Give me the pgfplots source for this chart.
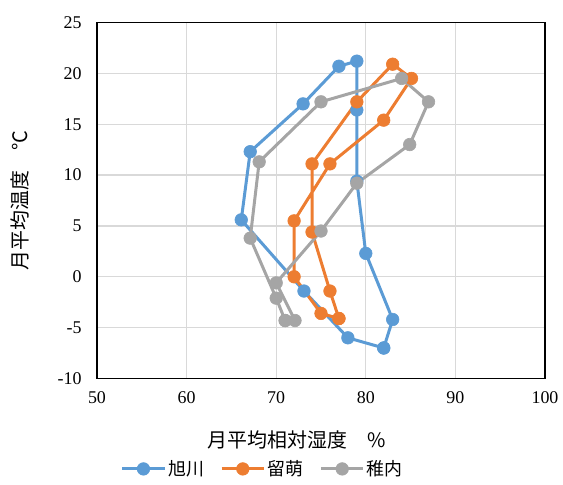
\documentclass[border=0pt]{standalone}
\usepackage{fontspec}
\setmainfont{Liberation Serif}
\newfontfamily\jp{Noto Sans CJK JP}
\usepackage{pgfplots}
\pgfplotsset{compat=1.18}
\definecolor{cblue}{HTML}{5B9BD5}
\definecolor{corange}{HTML}{ED7D31}
\definecolor{cgray}{HTML}{A5A5A5}
\definecolor{cgrid}{HTML}{D9D9D9}
\begin{document}
\begin{tikzpicture}
\begin{axis}[
  scale only axis,
  width=448bp, height=356bp,
  xmin=50, xmax=100, ymin=-10, ymax=25,
  xtick distance=10, ytick distance=5,
  grid=major,
  major grid style={cgrid, line width=1.2bp},
  axis line style={black, line width=1.5bp},
  major tick length=0pt,
  /pgf/number format/assume math mode=true,
  tick label style={font=\rmfamily\fontsize{18}{20}\selectfont},
  xticklabel style={yshift=-10bp},
  yticklabel style={xshift=-12bp},
  xlabel={\jp 月平均相対湿度　\%},
  ylabel={\jp 月平均温度　°C},
  label style={font=\fontsize{20}{22}\selectfont},
  xlabel style={at={(axis description cs:0.446,-0.173)}, anchor=center},
  ylabel style={at={(axis description cs:-0.172,0.5)}, anchor=center, rotate=0},
  legend style={at={(0.37,-0.254)}, anchor=center, draw=none, fill=none,
    legend columns=3, font=\jp\fontsize{18}{20}\selectfont,
    /tikz/every even column/.append style={column sep=14bp}},
  legend image code/.code={
    \draw[#1, mark=none] (0cm,0cm) -- (1.5cm,0cm);
    \draw[#1, only marks] plot coordinates {(0.75cm,0cm)};
  },
  every axis plot/.append style={line width=3bp, mark=*, mark size=6.3bp},
]
\addplot[cblue, mark options={fill=cblue, draw=cblue, line width=0.6bp}] coordinates {
(82.0,-7.0) (78.0,-6.0) (73.1,-1.4) (66.1,5.6) (67.1,12.3) (73.0,17.0)
(77.0,20.7) (79.0,21.2) (79.0,16.4) (79.0,9.4) (80.0,2.3) (83.0,-4.2) (82.0,-7.0)};
\addlegendentry{旭川}
\addplot[corange, mark options={fill=corange, draw=corange, line width=0.6bp}] coordinates {
(77.0,-4.1) (75.0,-3.6) (72.0,0.0) (72.0,5.5) (76.0,11.1) (82.0,15.4)
(85.1,19.5) (83.0,20.9) (79.0,17.2) (74.0,11.1) (74.0,4.4) (76.0,-1.4) (77.0,-4.1)};
\addlegendentry{留萌}
\addplot[cgray, mark options={fill=cgray, draw=cgray, line width=0.6bp}] coordinates {
(71.0,-4.3) (72.1,-4.3) (70.0,-0.6) (75.0,4.5) (79.0,9.2) (84.9,13.0)
(87.0,17.2) (84.0,19.5) (75.0,17.2) (68.1,11.3) (67.1,3.8) (70.0,-2.1) (71.0,-4.3)};
\addlegendentry{稚内}
\end{axis}
\pgfresetboundingbox
\path (current axis.south west) ++(-97bp,-106.5bp) coordinate (bbA);
\path (current axis.north east) ++(18bp,22.5bp) coordinate (bbB);
\useasboundingbox (bbA) rectangle (bbB);
\end{tikzpicture}
\end{document}
